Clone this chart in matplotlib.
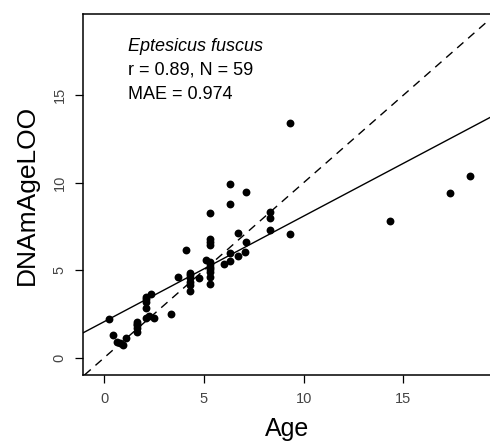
import matplotlib
matplotlib.use("Agg")
import matplotlib.pyplot as plt
import numpy as np

# chronological age vs leave-one-out DNAm age estimates
age = [0.25, 0.45, 0.65, 0.95, 1.07,
       1.66, 1.66, 1.66, 1.66, 1.66,
       2.07, 2.07, 2.07, 2.12, 2.24, 2.37, 2.49,
       3.36, 3.70, 4.10,
       4.30, 4.30, 4.30, 4.30, 4.30, 4.73,
       5.10, 5.30, 5.30, 5.30, 5.30, 5.30, 5.30, 5.30, 5.30, 5.30, 5.30,
       6.00, 6.30, 6.30, 6.30, 6.30, 6.71, 6.71, 7.04, 7.11, 7.11,
       8.29, 8.29, 8.29, 9.31, 9.31,
       14.31, 17.34, 18.34,
       0.80, 2.07, 4.30, 5.30]
dnam_age = [2.19, 1.30, 0.91, 0.72, 1.10,
            2.06, 1.95, 1.87, 1.68, 1.49,
            3.49, 3.20, 2.82, 2.25, 2.38, 3.62, 2.25,
            2.48, 4.59, 6.17,
            4.86, 4.53, 4.15, 3.83, 4.35, 4.53,
            5.58, 8.29, 6.80, 6.44, 5.49, 5.20, 4.91, 4.63, 4.23, 5.35, 6.60,
            5.33, 9.90, 8.78, 6.00, 5.52, 7.10, 5.83, 6.02, 9.47, 6.61,
            8.30, 7.96, 7.30, 13.39, 7.05,
            7.83, 9.39, 10.40,
            0.85, 3.35, 4.70, 5.05]

fit_intercept = 2.06
fit_slope = 0.603

x_ticks = [0, 5, 10, 15]
y_ticks = [0, 5, 10, 15]

plt.rcParams["font.family"] = ["Liberation Sans", "DejaVu Sans"]

fig = plt.figure(figsize=(4.9, 4.43), dpi=100)
ax = fig.add_axes([0.170, 0.1535, 0.830, 0.814])

ax.scatter(age, dnam_age, s=32, color="black", linewidths=0, zorder=3)
ax.axline((0, 0), slope=1, color="black", lw=1.0, ls=(0, (6, 4.5)))
ax.axline((0, fit_intercept), slope=fit_slope, color="black", lw=1.0)

ax.set_xlim(-1.05, 19.35)
ax.set_ylim(-0.99, 19.62)
ax.set_xticks(x_ticks)
ax.set_yticks(y_ticks)
ax.tick_params(axis="both", direction="out", length=6, width=0.9, pad=6,
               labelsize=10.5, labelcolor="#444444")
for lab in ax.get_yticklabels():
    lab.set_rotation(90)
    lab.set_va("center")

for side in ("left", "top", "bottom"):
    ax.spines[side].set_linewidth(1.1)
ax.spines["right"].set_visible(False)

ax.set_xlabel("Age", fontsize=18, labelpad=8)
ax.set_ylabel("DNAmAgeLOO", fontsize=19, labelpad=10)

ax.text(0.109, 0.912, "Eptesicus fuscus", transform=ax.transAxes,
        fontsize=13, style="italic", va="center", ha="left")
ax.text(0.109, 0.845, "r = 0.89, N = 59", transform=ax.transAxes,
        fontsize=13, va="center", ha="left")
ax.text(0.109, 0.779, "MAE = 0.974", transform=ax.transAxes,
        fontsize=13, va="center", ha="left")

fig.savefig("out.png", dpi=100)
plt.close(fig)
